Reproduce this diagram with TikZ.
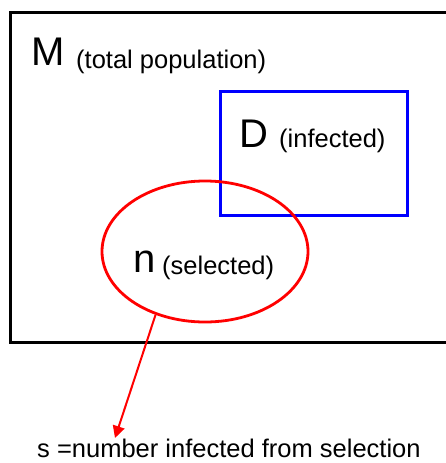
\documentclass[tikz,border=0pt]{standalone}
\usepackage{fontspec}
\setmainfont{Liberation Sans}
\usetikzlibrary{shapes.geometric,arrows.meta}
\tikzset{
  big/.style={anchor=base west,inner sep=0pt,font=\fontsize{40}{40}\selectfont},
  small/.style={anchor=base west,inner sep=0pt,font=\fontsize{25.5}{26}\selectfont},
  outerbox/.style={draw=black,line width=3pt},
  infbox/.style={draw=blue,line width=3pt},
  selell/.style={ellipse,draw=red,line width=2.8pt,minimum width=206pt,minimum height=141pt,inner sep=0pt},
  redarrow/.style={draw=red,line width=2pt,-{Triangle[length=12pt,width=12pt]}}
}
\begin{document}
\begin{tikzpicture}[x=1pt,y=-1pt]
\useasboundingbox (0,0) rectangle (446,463);
\draw[outerbox] (10.5,12) rectangle (470,342);
\draw[infbox] (220,91) rectangle (407,215);
\node[selell] (sel) at (205,251.5) {};
\node[big] (M) at (31,65) {M};
\node[small] (Mt) at (76,68) {(total population)};
\node[big] (D) at (239,147) {D};
\node[small] (Dt) at (279,147) {(infected)};
\node[big] (n) at (133,272) {n};
\node[small] (nt) at (162,274) {(selected)};
\node[small] (s) at (37,457) {s =number infected from selection};
\coordinate (tip) at (115,438);
\draw[redarrow] (sel.232.5) -- (tip);
\end{tikzpicture}
\end{document}
